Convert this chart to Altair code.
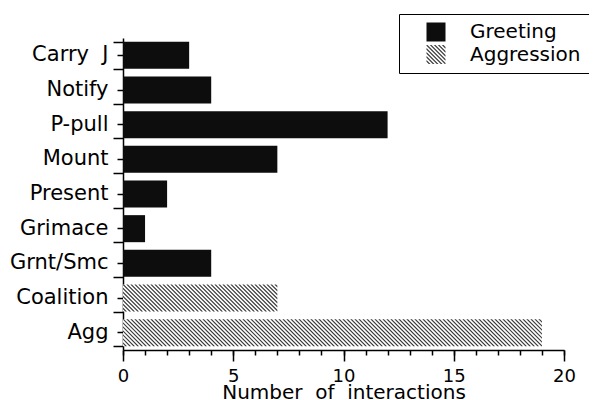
import altair as alt
import pandas as pd

# ---- data ----
categories = ["Carry\u00a0 J", "Notify", "P-pull", "Mount", "Present",
              "Grimace", "Grnt/Smc", "Coalition", "Agg"]
values = [3, 4, 12, 7, 2, 1, 4, 7, 19]
groups = ["Greeting"] * 7 + ["Aggression"] * 2
legend_labels = ["Greeting", "Aggression"]
x_major = [0, 5, 10, 15, 20]
x_minor = list(range(0, 21))
x_title = "Number\u00a0 of\u00a0 interactions"

# ---- layout / style ----
PLOT_W, PLOT_H = 441, 312
X_MAX = 20
PAD_IN, PAD_OUT = 0.22, 0.11
FONT = "DejaVu Sans"
BLACK = "#0d0d0d"
HATCH_DARK = "#3a3a3a"
HATCH_PERIOD_PX = 4.0
HATCH_FRAC = 0.42
step = PLOT_H / (len(categories) - PAD_IN + 2 * PAD_OUT)
bar_h = step * (1 - PAD_IN)
px_per_unit = PLOT_W / X_MAX


def _clip(poly, f):
    out = []
    n = len(poly)
    for i in range(n):
        p, q = poly[i], poly[(i + 1) % n]
        fp, fq = f(p), f(q)
        if fp >= 0:
            out.append(p)
        if (fp >= 0) != (fq >= 0):
            t = fp / (fp - fq)
            out.append((p[0] + t * (q[0] - p[0]), p[1] + t * (q[1] - p[1])))
    return out


def hatch_path(w_px, h_px, period_px=HATCH_PERIOD_PX, frac=HATCH_FRAC):
    """Symbol path of '\\' stripes filling a w x h box, in Vega's [-1,1] symbol units
    (x spans [-1,1]; symbol size must be w_px**2)."""
    r = h_px / w_px
    period = 2.0 * period_px / w_px
    rect = [(-1.0, -r), (1.0, -r), (1.0, r), (-1.0, r)]
    parts = []
    c = -1.0 - r
    while c < 1.0 + r:
        lo, hi = c + period * (1 - frac), c + period
        poly = _clip(rect, lambda p, lo=lo: (p[0] - p[1]) - lo)
        poly = _clip(poly, lambda p, hi=hi: hi - (p[0] - p[1]))
        if len(poly) >= 3:
            parts.append("M" + "L".join(f"{x:.4f},{y:.4f}" for x, y in poly) + "Z")
        c += period
    return "".join(parts)


df = pd.DataFrame({"category": categories, "value": values, "group": groups})

y_scale = alt.Scale(domain=categories, paddingInner=PAD_IN, paddingOuter=PAD_OUT)
x_scale = alt.Scale(domain=[0, X_MAX], nice=False)

x_axis_major = alt.Axis(
    orient="bottom", values=x_major, tickSize=11,
    labelFontSize=18, labelPadding=6, labelFlush=False, labelOverlap=False,
    labelColor="black", labelFont=FONT,
    title=x_title, titleFontSize=20, titleFontWeight="normal", titleFont=FONT,
    titleColor="black", titleBaseline="top", titleY=32,
    domainColor="black", domainWidth=1.5, tickColor="black", tickWidth=1.5,
    grid=False,
)
x_axis_minor = alt.Axis(
    orient="bottom", values=x_minor, tickSize=5, labels=False, domain=False,
    title=None, tickColor="black", tickWidth=1.5, grid=False,
)

y_axis_ext = alt.Axis(
    orient="left", tickBand="extent", tickSize=10, labels=False, title=None,
    domainColor="black", domainWidth=1.5, tickColor="black", tickWidth=1.5, grid=False,
)
y_axis_lab = alt.Axis(
    orient="left", tickSize=6, labelFontSize=21, labelPadding=9, domain=False,
    title=None, tickColor="black", tickWidth=1.5, labelColor="black",
    labelFont=FONT, grid=False,
)

legend = alt.Legend(
    orient="none", legendX=276, legendY=-24, title=None,
    symbolSize=361, symbolStrokeWidth=0, symbolOpacity=1,
    symbolOffset=19, labelOffset=24, labelFontSize=20, labelFont=FONT,
    labelColor="black", padding=8, rowPadding=2.5,
    strokeColor="black", fillColor="white",
)

base = alt.Chart(df)

greeting_bars = (
    base.transform_filter(alt.datum.group == "Greeting")
    .mark_bar(color=BLACK)
    .encode(
        x=alt.X("value:Q", scale=x_scale, axis=x_axis_major),
        y=alt.Y("category:N", scale=y_scale, axis=y_axis_ext),
    )
)

aggression_bars = (
    base.transform_filter(alt.datum.group == "Aggression")
    .mark_bar(color="white")
    .encode(
        x=alt.X("value:Q", scale=x_scale, axis=None),
        y=alt.Y("category:N", scale=y_scale, axis=None),
    )
)

# diagonal hatching of each aggression bar, centred on the bar
hatch_layers = []
for cat, val, grp in zip(categories, values, groups):
    if grp == "Aggression":
        w_px = val * px_per_unit
        hatch_layers.append(
            base.transform_filter(alt.datum.category == cat)
            .transform_calculate(mid="datum.value / 2")
            .mark_point(shape=hatch_path(w_px, bar_h), filled=True,
                        color=HATCH_DARK, opacity=1, strokeWidth=0)
            .encode(
                x=alt.X("mid:Q", scale=x_scale, axis=None),
                y=alt.Y("category:N", scale=y_scale, axis=None),
                size=alt.value(w_px ** 2),
            )
        )

# invisible layer: carries the labelled y axis, the minor x ticks and the legend
legend_layer = base.mark_point(filled=True, opacity=0).encode(
    x=alt.X("value:Q", scale=x_scale, axis=x_axis_minor),
    y=alt.Y("category:N", scale=y_scale, axis=y_axis_lab),
    color=alt.Color("group:N",
                    scale=alt.Scale(domain=legend_labels, range=[BLACK, HATCH_DARK]),
                    legend=legend),
    shape=alt.Shape("group:N",
                    scale=alt.Scale(domain=legend_labels,
                                    range=["square", hatch_path(19, 19)]),
                    legend=legend),
)

chart = (
    alt.layer(greeting_bars, aggression_bars, *hatch_layers, legend_layer)
    .resolve_axis(x="independent", y="independent")
    .properties(
        width=PLOT_W, height=PLOT_H,
        autosize=alt.AutoSizeParams(type="none"),
        padding={"left": 115, "top": 30, "right": 25, "bottom": 50},
    )
    .configure(font=FONT)
    .configure_view(stroke=None)
)

chart.save("out.html", embed_options={"renderer": "svg", "actions": False})
